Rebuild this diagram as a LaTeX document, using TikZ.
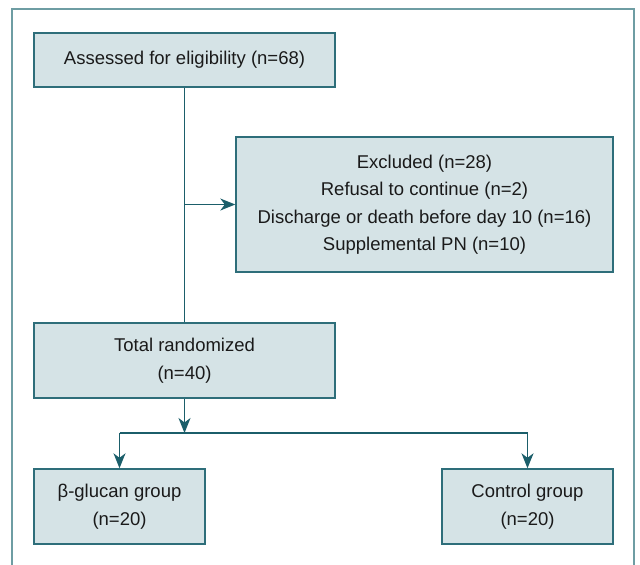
\documentclass[tikz,border=0pt]{standalone}
\usepackage{fontspec}
\setmainfont{Liberation Sans}
\usetikzlibrary{arrows.meta}
\definecolor{boxfill}{HTML}{D5E3E6}
\definecolor{boxline}{HTML}{2E6E7A}
\definecolor{conn}{HTML}{1B5E6A}
\definecolor{framecol}{HTML}{6E9DA3}
\definecolor{txt}{HTML}{1A1A1A}
\tikzset{
  flowbox/.style={draw=boxline, fill=boxfill, line width=1.4pt, rectangle, inner sep=0pt,
    align=center, text=txt, font=\fontsize{18.5}{27.5}\selectfont},
  link/.style={draw=conn, line width=1.4pt},
  linkarrow/.style={link, -{Stealth[length=15pt,width=12pt,inset=4.5pt]}}
}
\begin{document}
\begin{tikzpicture}[x=1pt,y=-1pt]
\useasboundingbox (0,0) rectangle (640,565);
\fill[white] (0,0) rectangle (640,565);
\draw[framecol, line width=1.4pt] (12,565) -- (12,9) -- (634,9) -- (634,565);

\node[flowbox, minimum width=301pt, minimum height=54pt] (assess) at (184.5,60) {Assessed for eligibility (n=68)};
\node[flowbox, minimum width=377pt, minimum height=135pt] (excl) at (424.5,204.5)
  {Excluded (n=28)\\Refusal to continue (n=2)\\Discharge or death before day 10 (n=16)\\Supplemental PN (n=10)};
\node[flowbox, minimum width=301pt, minimum height=75pt] (total) at (184.5,360.5) {Total randomized\\(n=40)};
\node[flowbox, minimum width=171pt, minimum height=75pt] (beta) at (119.5,506.5) {β-glucan group\\(n=20)};
\node[flowbox, minimum width=171pt, minimum height=75pt] (ctrl) at (527.5,506.5) {Control group\\(n=20)};

\coordinate (split) at (excl.west -| assess.south);
\coordinate (fork) at (184.5,433);
\coordinate (forkL) at (beta.north |- fork);
\coordinate (forkR) at (ctrl.north |- fork);

\draw[link] (assess.south) -- (total.north);
\draw[linkarrow] (split) -- (excl.west);
\draw[linkarrow] (total.south) -- (fork);
\draw[link] (forkL) -- (forkR);
\draw[linkarrow] (forkL) -- (beta.north);
\draw[linkarrow] (forkR) -- (ctrl.north);
\end{tikzpicture}
\end{document}
